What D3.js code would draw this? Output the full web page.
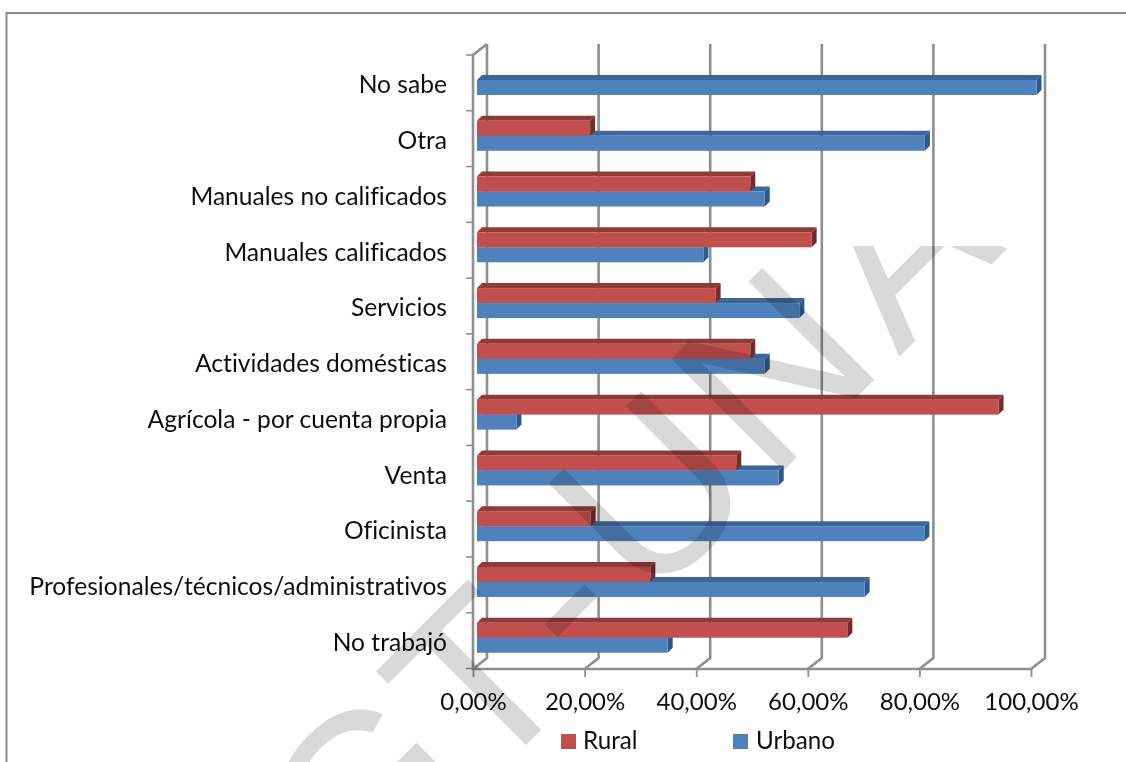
<!DOCTYPE html>
<html><head><meta charset="utf-8">
<script src="https://cdnjs.cloudflare.com/ajax/libs/d3/7.8.5/d3.min.js"></script>
<style>
html,body{margin:0;padding:0;background:#fff}
svg{display:block}
text{font-family:Lato,"Open Sans",sans-serif;fill:#111;font-variant-ligatures:none}
</style></head><body><svg id="c" width="1126" height="762"></svg>
<script>
const categories=["No sabe","Otra","Manuales no calificados","Manuales calificados","Servicios","Actividades domésticas","Agrícola - por cuenta propia","Venta","Oficinista","Profesionales/técnicos/administrativos","No trabajó"];
const rural=[0,20,48.7,59.7,42.5,48.7,93.2,46.2,20.1,30.8,66.1];
const urbano=[100,80,51.3,40.3,57.5,51.3,6.8,53.8,79.9,69.2,33.9];
const xTicks=[0,20,40,60,80,100];
const xTickLabels=["0,00%","20,00%","40,00%","60,00%","80,00%","100,00%"];
const seriesNames=["Rural","Urbano"];
const watermark=["G","T","-","U","N","A"];

const FS=24.6, TICK_FS=24;
const svg=d3.select("#c");
const defs=svg.append("defs");
defs.append("filter").attr("id","soft").attr("x","-5%").attr("y","-5%").attr("width","110%").attr("height","110%")
  .append("feGaussianBlur").attr("stdDeviation",0.55);
defs.append("filter").attr("id","softText").attr("x","-5%").attr("y","-5%").attr("width","110%").attr("height","110%")
  .append("feGaussianBlur").attr("stdDeviation",0.3);
defs.append("clipPath").attr("id","wmclip").append("rect").attr("x",0).attr("y",246.5).attr("width",1126).attr("height",516);

svg.append("rect").attr("width",1126).attr("height",762).attr("fill","#fff");
svg.append("path").attr("d","M6.5,762V13H1126").attr("fill","none").attr("stroke","#8c8c8c").attr("stroke-width",2);

const x=d3.scaleLinear().domain([0,100]).range([473,1031]);
const y=d3.scaleBand().domain(categories).range([55,668.5]);
const inner=d3.scaleBand().domain(seriesNames).range([10/55.8*y.bandwidth(),40/55.8*y.bandwidth()]);
const backDx=14, backDy=-11, floorY=y.range()[1]+0.5;

const frame=svg.append("g").attr("filter","url(#soft)").attr("fill","none").attr("stroke","#8f8f8f").attr("stroke-width",2.6);
// back wall gridlines with their floor returns
frame.selectAll("path.grid").data(xTicks).join("path").attr("class","grid")
  .attr("d",v=>`M${x(v)},${floorY}L${x(v)+backDx},${floorY+backDy}V${55+backDy}`);
// left wall and floor
frame.append("path").attr("d",`M${x(0)+backDx},${55+backDy}L${x(0)},55V${floorY}H${x(100)}`);
// category ticks at band edges
frame.selectAll("line.yt").data(d3.range(categories.length+1)).join("line").attr("class","yt")
  .attr("x1",x(0)-7).attr("x2",x(0)).attr("stroke-width",1.6)
  .attr("y1",i=>y.range()[0]+i*y.step()).attr("y2",i=>y.range()[0]+i*y.step());

// bars
const DEPTH=5, START=4, END=5.5;
const colours={Rural:{front:"#c0504d",top:"#8f3b39",side:"#7a2c2a"},Urbano:{front:"#4f81bd",top:"#3d6696",side:"#2c5a92"}};
const rows=categories.map((c,i)=>({c,Rural:rural[i],Urbano:urbano[i]}));
const barsG=svg.append("g").attr("filter","url(#soft)");
rows.forEach(r=>{
  ["Urbano","Rural"].forEach(s=>{
    if(!r[s]) return;
    const t=y(r.c)+inner(s), h=inner.bandwidth(), x0=x(0)+START, x1=x(r[s])+END, col=colours[s];
    const g=barsG.append("g");
    g.append("path").attr("d",`M${x0},${t}L${x0+DEPTH},${t-DEPTH}H${x1+DEPTH}L${x1},${t}Z`).attr("fill",col.top);
    g.append("path").attr("d",`M${x1},${t}L${x1+DEPTH},${t-DEPTH}V${t+h-DEPTH}L${x1},${t+h}Z`).attr("fill",col.side);
    g.append("rect").attr("x",x0).attr("y",t).attr("width",x1-x0).attr("height",h).attr("fill",col.front);
  });
});

// axes
const xAxis=d3.axisBottom(x).tickValues(xTicks).tickSize(8).tickPadding(16)
  .tickFormat((d,i)=>xTickLabels[i]);
const gx=svg.append("g").attr("transform",`translate(0,${floorY})`).attr("filter","url(#softText)").call(xAxis);
gx.select(".domain").remove();
gx.selectAll("line").attr("stroke","#8f8f8f").attr("stroke-width",1.8);
gx.selectAll("text").attr("font-size",TICK_FS).attr("style",`font-family:Lato;fill:#111`);

const yAxis=d3.axisLeft(y).tickSize(0).tickPadding(26);
const gy=svg.append("g").attr("transform",`translate(${x(0)},2.5)`).attr("filter","url(#softText)").call(yAxis);
gy.select(".domain").remove();
gy.selectAll("text").attr("font-size",FS).attr("style",`font-family:Lato;fill:#111`);

// legend
const legendX=[561,733];
const lg=svg.append("g").attr("filter","url(#softText)").selectAll("g").data(seriesNames).join("g")
  .attr("transform",(d,i)=>`translate(${legendX[i]},734)`);
lg.append("rect").attr("width",15).attr("height",15).attr("fill",d=>colours[d].front);
lg.append("text").attr("x",d=>d==="Rural"?22:23).attr("y",15).attr("font-size",FS-0.4).text(d=>d);

// diagonal watermark, as text, printed over the chart
const wmAnchor=[[358,913],[484,787],[587,681],[648,608],[770,484],[899,357]];
svg.append("g").attr("clip-path","url(#wmclip)").style("mix-blend-mode","multiply")
  .selectAll("text").data(watermark).join("text")
  .attr("transform",(d,i)=>`translate(${wmAnchor[i][0]},${wmAnchor[i][1]}) rotate(-45)`)
  .attr("font-size",230)
  .attr("style","font-family:'Liberation Sans';fill:#d9d9d9")
  .text(d=>d);
</script></body></html>
